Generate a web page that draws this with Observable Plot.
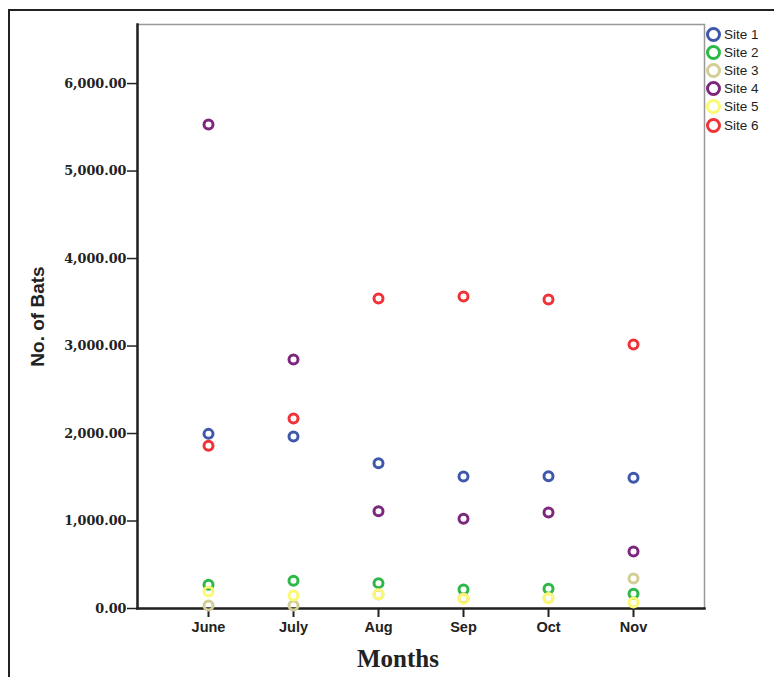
<!DOCTYPE html>
<html>
<head>
<meta charset="utf-8">
<script src="https://cdn.jsdelivr.net/npm/d3@7"></script>
<script src="https://cdn.jsdelivr.net/npm/@observablehq/plot@0.6"></script>
<style>
  body { margin: 0; background: #fff; }
  #wrap { position: relative; width: 774px; height: 677px; overflow: hidden; }
  #border { position: absolute; left: 8px; top: 9px; width: 800px; height: 700px; border-left: 2px solid #222; border-top: 2px solid #222; }
  #legend { position: absolute; left: 706px; top: 25px; font-family: "Liberation Sans", Arial, sans-serif; font-size: 13.5px; color: #222; }
  .item { height: 18.2px; display: flex; align-items: center; }
  .sw { width: 9px; height: 9px; border-radius: 50%; border-width: 3px; border-style: solid; margin-right: 3px; box-sizing: content-box; }
  #chart { position: absolute; left: 0; top: 0; }
</style>
</head>
<body>
<div id="wrap">
  <div id="border"></div>
  <div id="chart"></div>
  <div id="legend"></div>
</div>
<script>
const months = ["June", "July", "Aug", "Sep", "Oct", "Nov"];
const sites = ["Site 1", "Site 2", "Site 3", "Site 4", "Site 5", "Site 6"];
const colors = ["#3E58AC", "#2EB848", "#D3CE97", "#7C287D", "#FBF873", "#EF3338"];
const site1 = [1996, 1966, 1661, 1509, 1512, 1494];
const site2 = [271, 316, 290, 217, 225, 168];
const site3 = [34, 34, 160, 118, 120, 343];
const site4 = [5531, 2846, 1112, 1025, 1097, 651];
const site5 = [194, 149, 164, 110, 118, 69];
const site6 = [1859, 2171, 3543, 3566, 3531, 3017];
const yTicks = [0, 1000, 2000, 3000, 4000, 5000, 6000];

const series = [site1, site2, site3, site4, site5, site6];
const data = [];
series.forEach((vals, i) => vals.forEach((v, j) => data.push({site: sites[i], month: months[j], value: v})));

const plot = Plot.plot({
  width: 774,
  height: 677,
  marginLeft: 137,
  marginRight: 70,
  marginTop: 24,
  marginBottom: 69,
  style: {background: "transparent", overflow: "visible"},
  x: {type: "point", domain: months, padding: 0.835, label: null},
  y: {domain: [0, 6675], label: null},
  color: {domain: sites, range: colors},
  marks: [
    Plot.frame({stroke: "#999", strokeWidth: 1.5}),
    Plot.frame({anchor: "left", stroke: "#222", strokeWidth: 2.5}),
    Plot.frame({anchor: "bottom", stroke: "#222", strokeWidth: 2.5}),
    Plot.axisY({ticks: yTicks, tickFormat: d3.format(",.2f"), tickSize: 10, tickPadding: 1, stroke: "#222", strokeWidth: 1.5,
      fontFamily: "DejaVu Serif", fontWeight: "bold", fontSize: 12.8, fill: "#222", label: null}),
    Plot.axisX({tickSize: 9, tickPadding: 4, stroke: "#222", strokeWidth: 2,
      fontFamily: "Liberation Sans, Arial, sans-serif", fontWeight: "bold", fontSize: 14.5, fill: "#222", label: null}),
    Plot.dot(data, {x: "month", y: "value", stroke: "site", r: 4.5, strokeWidth: 3, fill: "none"}),
    Plot.text(["No. of Bats"], {frameAnchor: "left", dx: -100, rotate: -90, textAnchor: "middle", text: d => d,
      fontFamily: "Liberation Sans, Arial, sans-serif", fontWeight: "bold", fontSize: 19, fill: "#222"}),
    Plot.text(["Months"], {frameAnchor: "bottom", dx: -23, dy: 58, text: d => d,
      fontFamily: "Liberation Serif, Times New Roman, serif", fontWeight: "bold", fontSize: 25, fill: "#222"})
  ]
});
document.getElementById("chart").appendChild(plot);

const legend = document.getElementById("legend");
sites.forEach((s, i) => {
  const item = document.createElement("div");
  item.className = "item";
  const sw = document.createElement("span");
  sw.className = "sw";
  sw.style.borderColor = colors[i];
  const t = document.createElement("span");
  t.textContent = s;
  item.appendChild(sw);
  item.appendChild(t);
  legend.appendChild(item);
});
</script>
</body>
</html>
